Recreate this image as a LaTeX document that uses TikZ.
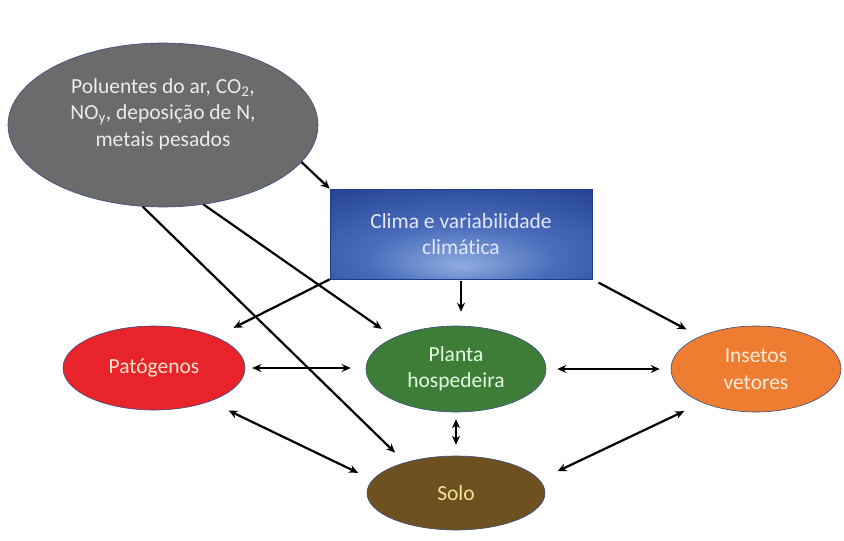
\documentclass[tikz,border=0pt]{standalone}
\usepackage{fontspec}
\setmainfont{Carlito}[Ligatures=NoCommon]
\usetikzlibrary{shapes.geometric,arrows.meta}
\definecolor{grayfill}{HTML}{6B6B6B}
\definecolor{outl}{HTML}{3B4E82}
\definecolor{redfill}{HTML}{E8232A}
\definecolor{greenfill}{HTML}{3E7D38}
\definecolor{brownfill}{HTML}{6E5120}
\definecolor{orangefill}{HTML}{EE7D31}
\definecolor{soloText}{HTML}{F2E494}
\definecolor{cl1}{HTML}{8FACE0}
\definecolor{cl2}{HTML}{4A6DBB}
\definecolor{cl3}{HTML}{1E3C8C}
\pgfdeclareradialshading{climashade}{\pgfpoint{0bp}{-18bp}}{color(0bp)=(cl1); color(18bp)=(cl2); color(45bp)=(cl3); color(70bp)=(cl3)}
\tikzset{
  txt/.style={align=center, font=\fontsize{21.5}{26.5}\selectfont},
  oval/.style={ellipse, draw=outl, line width=0.6pt, inner sep=0pt, txt},
  conn/.style={line width=2.2pt, -{Stealth[length=9pt,width=8pt]}},
  bconn/.style={line width=2.2pt, {Stealth[length=9pt,width=8pt]}-{Stealth[length=9pt,width=8pt]}},
}
\begin{document}
\begin{tikzpicture}[x=1pt,y=-1pt]
\useasboundingbox[fill=white] (0,0) rectangle (844,541);
\node[oval, fill=grayfill, minimum width=310pt, minimum height=164pt] (G) at (163,125) {};
\node[txt, text=black!8] (Gt) at ([yshift=11pt]G.center)
  {Poluentes do ar, CO\textsubscript{2},\\NO\textsubscript{y}, deposição de N,\\metais pesados};
\node[draw=cl3, line width=0.6pt, shading=climashade, minimum width=262pt, minimum height=90pt,
  inner sep=0pt, txt, text=white!90!blue] (R) at (461,234)
  {Clima e variabilidade\\climática};
\node[oval, fill=redfill, text=orange!20!white, minimum width=182pt, minimum height=84pt] (P) at (154,368) {Patógenos};
\node[oval, fill=greenfill, text=green!12!white, minimum width=180pt, minimum height=86pt] (L) at (456,369) {Planta\\hospedeira};
\node[oval, fill=brownfill, text=soloText, minimum width=178pt, minimum height=74pt] (S) at (456,493) {Solo};
\node[oval, fill=orangefill, text=orange!15!white, minimum width=170pt, minimum height=86pt] (I) at (756,369) {Insetos\\vetores};

\draw[conn] (G.345) -- (R.north west);
\draw[conn, shorten >=14pt] (G.256) -- (S.149);
\draw[conn, shorten >=15pt] (G.297) -- (L.153);
\draw[conn, shorten >=20pt] (R.south west) -- (P);
\draw[conn, shorten <=2pt, shorten >=14pt] (R.south) -- (R.south |- L.north);
\draw[conn, shorten <=7pt, shorten >=15pt] (R.south east) -- (I.150);
\draw[bconn, shorten <=7pt, shorten >=15pt] (P.east) -- (P.east -| L.west);
\draw[bconn, shorten <=11pt, shorten >=11pt] (L.east) -- (L.east -| I.west);
\draw[bconn, shorten <=7pt, shorten >=11pt] (L.south) -- (S.north);
\draw[bconn, shorten <=21pt, shorten >=16pt] (P.329) -- (S.171);
\draw[bconn, shorten <=20pt, shorten >=20pt] (S.9) -- (I.212);
\end{tikzpicture}
\end{document}
